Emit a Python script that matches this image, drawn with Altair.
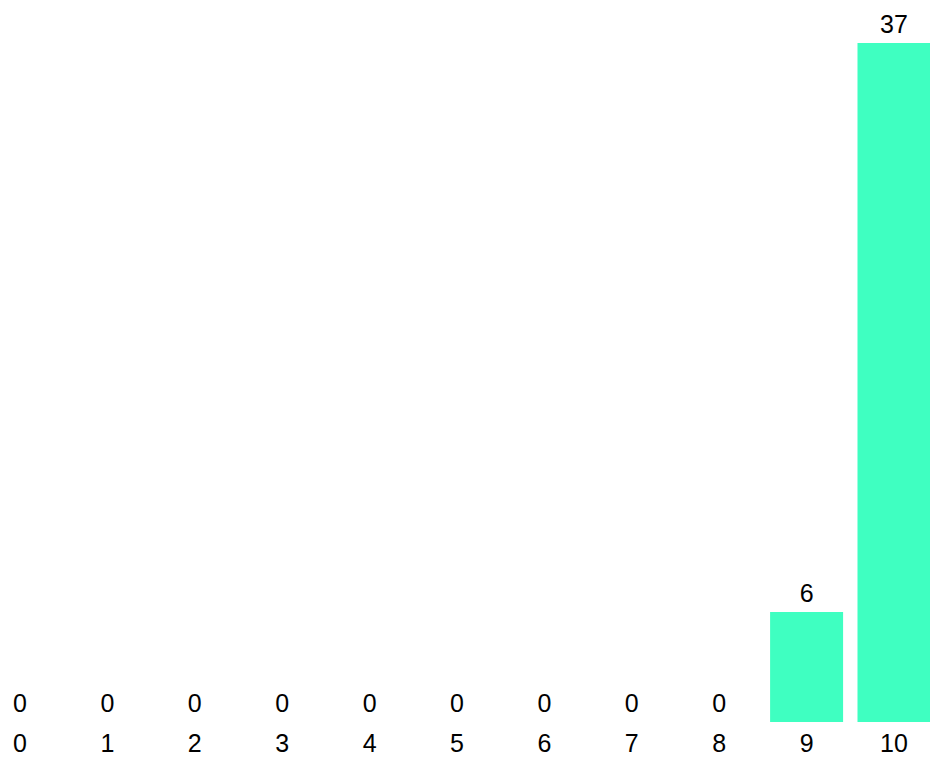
import altair as alt
import pandas as pd

categories = [0, 1, 2, 3, 4, 5, 6, 7, 8, 9, 10]
values = [0, 0, 0, 0, 0, 0, 0, 0, 0, 6, 37]

df = pd.DataFrame({"cat": categories, "val": values})

xs = alt.Scale(domain=[-0.2288, 10.412], nice=False, zero=False)
y = alt.Y("val:Q", title=None, scale=alt.Scale(domain=[-2.016, 39.34], nice=False, zero=False),
          axis=None)

base = alt.Chart(df).transform_calculate(x0="datum.cat - 0.4176", x1="datum.cat + 0.4176", lab="''+datum.cat")
bars = base.mark_bar(color="#3fffc1").encode(
    x=alt.X("x0:Q", scale=xs, axis=None, title=None), x2="x1:Q", y=y, y2=alt.datum(0))
text = base.mark_text(font="Liberation Sans", fontSize=25, color="#000000",
                      baseline="alphabetic", dy=-10).encode(
    x=alt.X("cat:Q", scale=xs, axis=None), y=y, text="val:Q")
xlabels = base.mark_text(font="Liberation Sans", fontSize=25, color="#000000",
                         baseline="alphabetic").encode(
    x=alt.X("cat:Q", scale=xs, axis=None), y=alt.value(752), text="lab:N")

chart = (bars + text + xlabels).properties(
    width=930, height=759, padding=0,
    autosize=alt.AutoSizeParams(type="none")
).configure_view(stroke=None)
chart.save("out.html", embed_options={"renderer": "svg", "actions": False})
